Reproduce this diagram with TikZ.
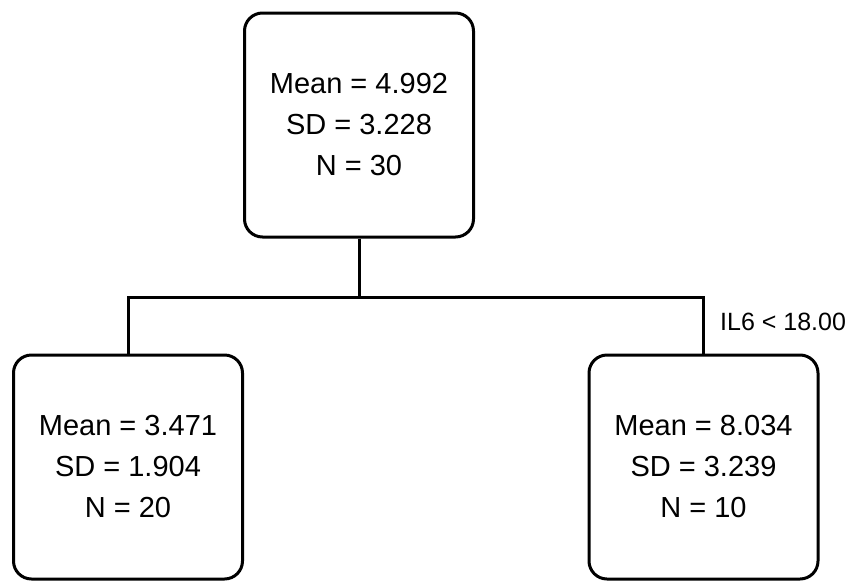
\documentclass[tikz,border=0pt]{standalone}
\usepackage{fontspec}
\setmainfont{Liberation Sans}
\tikzset{
    x={1pt},
    y={-1pt},
    tree node/.style={
        draw, rectangle,
        rounded corners={18},
        line width={3pt},
        minimum width={229},
        minimum height={224},
        align=center,
        font={\fontsize{29}{41}\selectfont},
    },
    split line/.style={
        draw,
        line width={3pt},
    },
    split label/.style={
        anchor=west,
        font={\fontsize{25}{30}\selectfont},
        inner sep=0pt,
    },
}

\begin{document}
\begin{tikzpicture}
\useasboundingbox (0,0) rectangle (857,584);
% nodes
\node[tree node] (root) at (359,125) {Mean = 4.992\\ SD = 3.228\\ N = 30};
\node[tree node] (leftnode) at (128,467) {Mean = 3.471\\ SD = 1.904\\ N = 20};
\node[tree node] (rightnode) at (703.5,467) {Mean = 8.034\\ SD = 3.239\\ N = 10};
% split
\coordinate (split) at (root.south |- 0,297);
\path[split line] (root.south) -- (split);
\path[split line] (leftnode.north) |- (split) -| (rightnode.north);
\node[split label] (cond) at (720,322) {IL6 < 18.00};
\end{tikzpicture}
\end{document}
